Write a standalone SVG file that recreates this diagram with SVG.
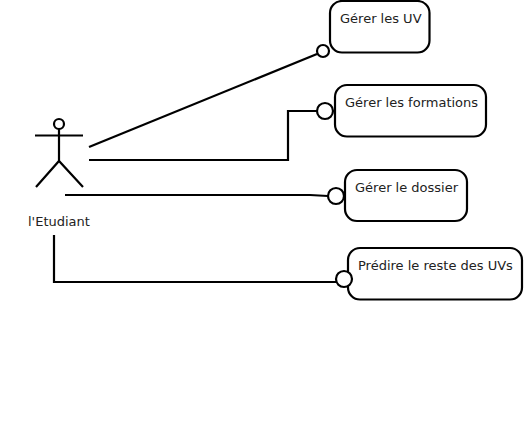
<svg xmlns="http://www.w3.org/2000/svg" width="524" height="432" viewBox="0 0 524 432">
<style>
.l{fill:none;stroke:#000;stroke-width:2.2}
.b{fill:#fff;stroke:#000;stroke-width:2.2}
text{font-family:"DejaVu Sans",sans-serif;font-size:13px;fill:#222}
</style>
<rect width="524" height="432" fill="#fff"/>
<g id="connectors">
<path class="l" d="M89 147L317 54"/>
<path class="l" d="M89 160H288V111H318"/>
<path class="l" d="M65 195H310L328 196"/>
<path class="l" d="M54 235V282H336"/>
</g>
<g id="actor">
<circle class="l" cx="59" cy="124" r="5"/>
<path class="l" d="M59 129V161M35 135.500H83M36 187L59 161L83 187"/>
<text x="28" y="226">l'Etudiant</text>
</g>
<g id="uv">
<rect class="b" x="330" y="1" width="99.500" height="51.500" rx="12"/>
<circle class="b" cx="323" cy="51" r="6"/>
<text x="340" y="23">Gérer les UV</text>
</g>
<g id="formations">
<rect class="b" x="335" y="85" width="151" height="51.500" rx="12"/>
<circle class="b" cx="325" cy="111" r="8"/>
<text x="345" y="107">Gérer les formations</text>
</g>
<g id="dossier">
<rect class="b" x="345" y="170" width="122" height="51" rx="12"/>
<circle class="b" cx="336" cy="196" r="8"/>
<text x="355" y="192">Gérer le dossier</text>
</g>
<g id="predire">
<rect class="b" x="348" y="248" width="174" height="51.500" rx="12"/>
<circle class="b" cx="344" cy="279" r="8"/>
<text x="358" y="270">Prédire le reste des UVs</text>
</g>
</svg>
